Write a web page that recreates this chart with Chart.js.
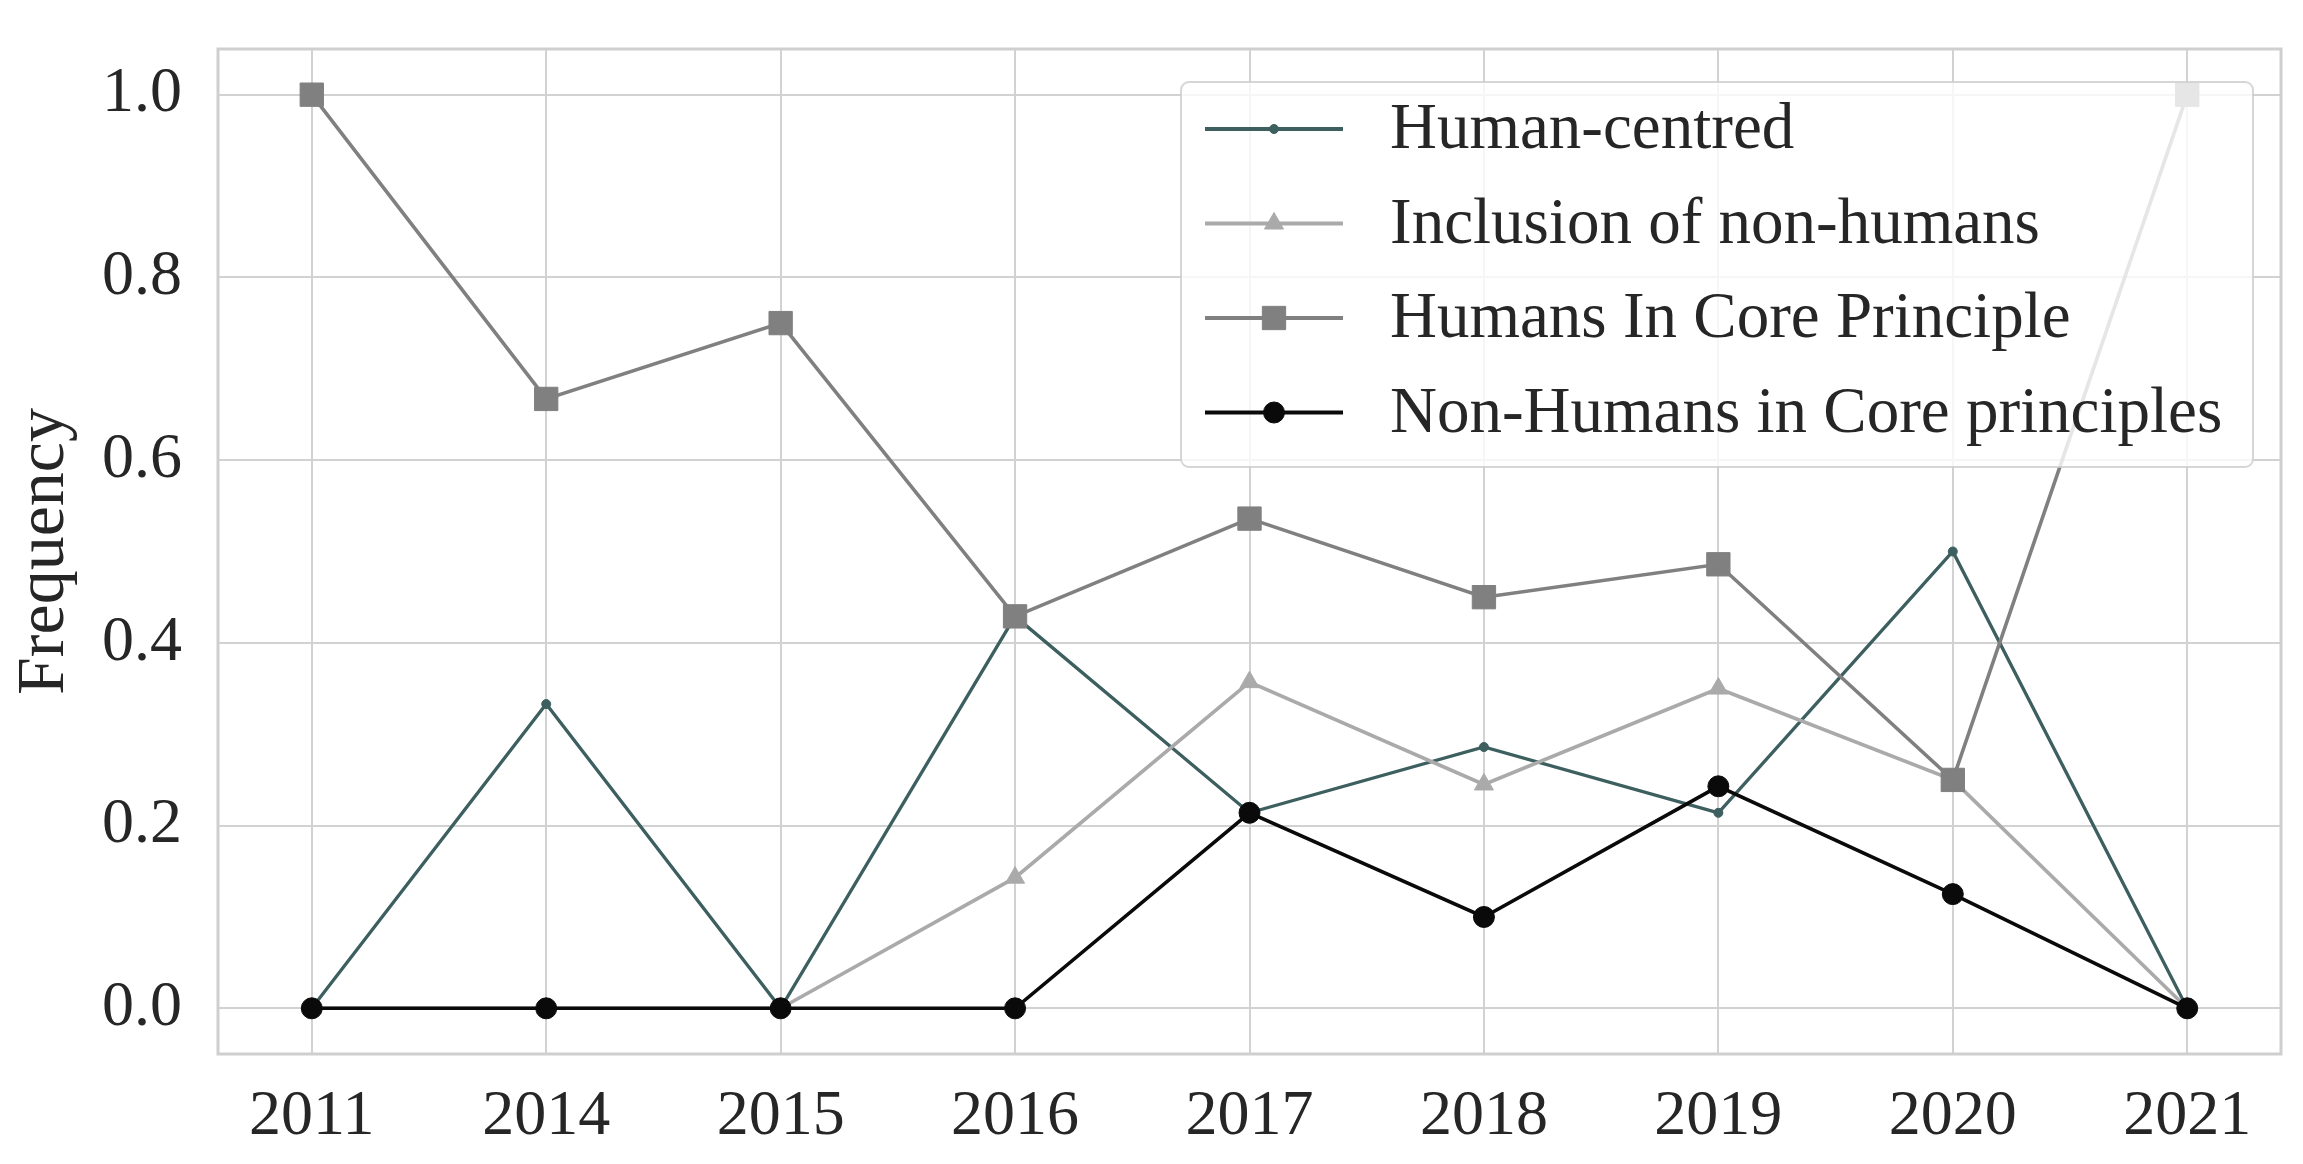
<html>
<head>
<title></title>
<style>
  body { margin: 0; background: #fff; }
</style>
</head>
<body>
<canvas id="myChart" width="2303" height="1164"></canvas>
<script src="https://cdn.jsdelivr.net/npm/chart.js"></script>
<script>
// years on the x axis (evenly spaced categories)
var years = ['2011', '2014', '2015', '2016', '2017', '2018', '2019', '2020', '2021'];
var yTicks = [0, 0.2, 0.4, 0.6, 0.8, 1.0];

var humanCentred = [0, 0.333, 0, 0.429, 0.214, 0.286, 0.214, 0.5, 0];
var inclusionNonHumans = [0, 0, 0, 0.143, 0.357, 0.245, 0.35, 0.25, 0];
var humansCore = [1.0, 0.667, 0.75, 0.429, 0.536, 0.45, 0.486, 0.25, 1.0];
var nonHumansCore = [0, 0, 0, 0, 0.214, 0.1, 0.243, 0.125, 0];

var seriesNames = ['Human-centred', 'Inclusion of non-humans', 'Humans In Core Principle', 'Non-Humans in Core principles'];

var FONT = '"Liberation Serif", "Times New Roman", serif';

function pts(arr) {
  return arr.map(function (v, i) { return { x: i, y: v }; });
}

function ds(label, values, color, style, radius, width, order) {
  return {
    label: label,
    data: pts(values),
    borderColor: color,
    backgroundColor: color,
    borderWidth: width,
    pointStyle: style,
    pointRadius: radius,
    pointHoverRadius: radius,
    pointBackgroundColor: color,
    pointBorderColor: color,
    pointBorderWidth: 1,
    tension: 0,
    order: order
  };
}

// plot frame + legend box drawn on top of the datasets
var framePlugin = {
  id: 'frame',
  afterDatasetsDraw: function (chart) {
    var ctx = chart.ctx, a = chart.chartArea;
    ctx.save();
    ctx.strokeStyle = '#cfcfcf';
    ctx.lineWidth = 3;
    ctx.strokeRect(a.left, a.top, a.right - a.left, a.bottom - a.top);

    // legend
    var w = 1072, h = 385;
    var bx = a.right - 28 - w, by = a.top + 33;
    ctx.beginPath();
    if (ctx.roundRect) ctx.roundRect(bx, by, w, h, 8); else ctx.rect(bx, by, w, h);
    ctx.fillStyle = 'rgba(255,255,255,0.8)';
    ctx.fill();
    ctx.strokeStyle = 'rgba(204,204,204,0.8)';
    ctx.lineWidth = 2;
    ctx.stroke();

    chart.data.datasets.forEach(function (d, i) {
      var cy = by + 47 + i * 94.5;
      var x0 = bx + 24, x1 = bx + 162;
      ctx.strokeStyle = d.borderColor;
      ctx.lineWidth = d.borderWidth + 0.5;
      ctx.beginPath();
      ctx.moveTo(x0, cy);
      ctx.lineTo(x1, cy);
      ctx.stroke();
      ctx.fillStyle = d.backgroundColor;
      ctx.strokeStyle = d.borderColor;
      ctx.lineWidth = 1;
      Chart.helpers.drawPoint(ctx, { pointStyle: d.pointStyle, radius: d.pointRadius, rotation: 0, borderWidth: 1 }, (x0 + x1) / 2, cy);
      ctx.fillStyle = '#262626';
      ctx.font = '65px ' + FONT;
      ctx.textBaseline = 'middle';
      ctx.textAlign = 'left';
      ctx.fillText(d.label, bx + 209, cy + 2);
    });
    ctx.restore();
  }
};

var ctx = document.getElementById('myChart').getContext('2d');
var chart = new Chart(ctx, {
  type: 'line',
  data: {
    datasets: [
      ds(seriesNames[0], humanCentred, '#3d5f5f', 'circle', 4.5, 3.3, 3),
      ds(seriesNames[1], inclusionNonHumans, '#aaaaaa', 'triangle', 11, 3.6, 2),
      ds(seriesNames[2], humansCore, '#808080', 'rect', 16.5, 3.6, 1),
      ds(seriesNames[3], nonHumansCore, '#0a0a0a', 'circle', 10.5, 3.6, 0)
    ]
  },
  options: {
    responsive: false,
    devicePixelRatio: 1,
    animation: false,
    layout: { padding: { top: 49, right: 22, left: 0, bottom: 0 } },
    plugins: {
      legend: { display: false },
      tooltip: { enabled: false }
    },
    scales: {
      x: {
        type: 'linear',
        min: -0.4,
        max: 8.4,
        afterBuildTicks: function (s) {
          s.ticks = years.map(function (y, i) { return { value: i }; });
        },
        afterFit: function (s) { s.height = 110; s.paddingLeft = 0; s.paddingRight = 0; },
        grid: { color: '#d2d2d2', lineWidth: 2, drawTicks: false },
        border: { display: false },
        ticks: {
          padding: 25,
          color: '#262626',
          font: { family: FONT, size: 64 },
          maxRotation: 0,
          autoSkip: false,
          callback: function (v) { return years[v]; }
        }
      },
      y: {
        min: -0.05,
        max: 1.05,
        afterBuildTicks: function (s) {
          s.ticks = yTicks.map(function (v) { return { value: v }; });
        },
        afterFit: function (s) { s.width = 218; s.paddingTop = 0; s.paddingBottom = 0; },
        grid: { color: '#d2d2d2', lineWidth: 2, drawTicks: false },
        border: { display: false },
        ticks: {
          padding: 36,
          color: '#262626',
          font: { family: FONT, size: 64 },
          callback: function (v) { return v.toFixed(1); }
        },
        title: {
          display: true,
          text: 'Frequency',
          color: '#262626',
          font: { family: FONT, size: 68 },
          padding: { top: 4, bottom: 0 }
        }
      }
    }
  },
  plugins: [framePlugin]
});
</script>
</body>
</html>
